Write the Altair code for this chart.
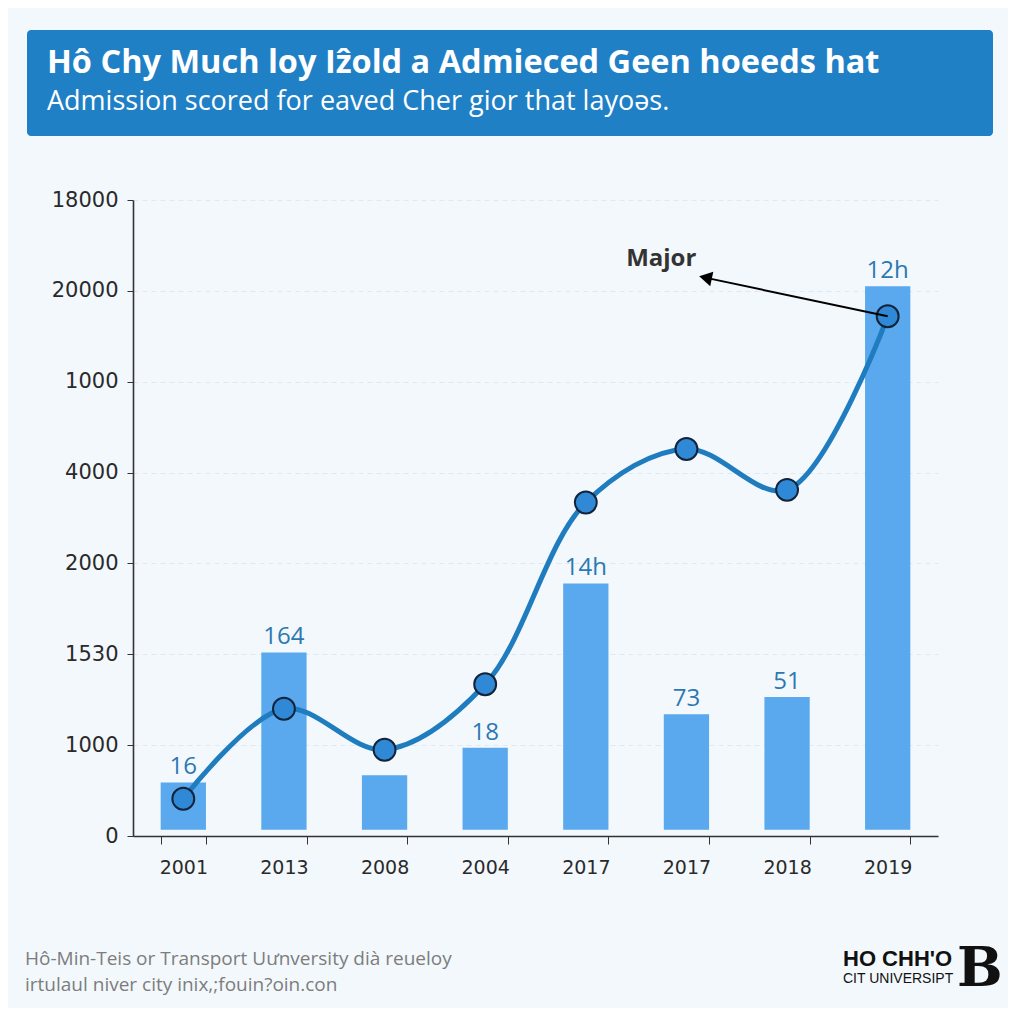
import altair as alt
import pandas as pd

# ---------------- data ----------------
years = ["2001", "2013", "2008", "2004", "2017", "2017", "2018", "2019"]
bar_values = [0.59, 2.02, 0.67, 0.97, 2.78, 1.34, 1.53, 6.05]
bar_labels = ["16", "164", "", "18", "14h", "73", "51", "12h"]
line_values = [0.41, 1.40, 0.95, 1.67, 3.67, 4.26, 3.81, 5.72]
y_tick_labels = ["0", "1000", "1530", "2000", "4000", "1000", "20000", "18000"]

title_text = "Hô Chy Much loy Iẑold a Admieced Geen hoeeds hat"
subtitle_text = "Admission scored for eaved Cher gior that layoəs."
footer_1 = "Hô-Min-Teis or Transport Uưnversity dià reueloy"
footer_2 = "irtulaul niver city inix,;fouin?oin.con"
logo_1 = "HO CHH'O"
logo_2 = "CIT UNIVERSIPT"
logo_3 = "B"

annotation_text = "Major"
arrow_from = [7, 5.72]
arrow_to = [5.21, 6.14]
annotation_pos = [4.75, 6.35]

# ---------------- tables ----------------
df = pd.DataFrame({
    "idx": list(range(len(years))),
    "year": years,
    "bar": bar_values,
    "label": bar_labels,
    "line": line_values,
})
arrow_df = pd.DataFrame({
    "x": [arrow_from[0]], "y": [arrow_from[1]],
    "x2": [arrow_to[0]], "y2": [arrow_to[1]],
})
ann_df = pd.DataFrame({"x": [annotation_pos[0]], "y": [annotation_pos[1]], "t": [annotation_text]})
deco_df = pd.DataFrame({"k": [0]})

year_expr = "[" + ",".join("'%s'" % y for y in years) + "][datum.value]"
ytick_expr = "[" + ",".join("'%s'" % y for y in y_tick_labels) + "][datum.value]"

y_axis = alt.Axis(
    title=None, values=list(range(8)), labelExpr=ytick_expr,
    labelFont="DejaVu Sans", labelFontSize=21, labelColor="#2a2a2a", labelPadding=9,
    domainColor="#333333", domainWidth=1.6, tickColor="#333333", tickSize=6,
    grid=True, gridColor="#e1e9f0", gridDash=[5, 4], gridWidth=1,
)
y_scale = alt.Scale(domain=[0, 7], nice=False, zero=True)

x_enc = alt.X(
    "idx:O",
    scale=alt.Scale(paddingInner=0.55, paddingOuter=0.275),
    axis=alt.Axis(
        title=None, labelExpr=year_expr, labelAngle=0, tickBand="extent",
        labelFont="DejaVu Sans", labelFontSize=19, labelColor="#2a2a2a", labelPadding=14,
        domainColor="#333333", domainWidth=1.6, tickColor="#333333", tickSize=8, grid=False,
    ),
)

base = alt.Chart(df)
bars = base.mark_bar(color="#5aa9ee").encode(
    x=x_enc, y=alt.Y("bar:Q", scale=y_scale, axis=y_axis), y2=alt.datum(0.07)
)
line = base.mark_line(color="#1f7cbf", strokeWidth=5, interpolate="catmull-rom").encode(
    x=x_enc, y=alt.Y("line:Q", scale=y_scale, axis=y_axis)
)
points = base.mark_point(
    filled=True, size=480, fill="#2f89d6", stroke="#13243a", strokeWidth=2, opacity=1
).encode(x=x_enc, y=alt.Y("line:Q", scale=y_scale, axis=y_axis))
labels = base.mark_text(
    baseline="bottom", dy=-3, font="Open Sans", fontSize=24, color="#2b78b3"
).encode(x=x_enc, y=alt.Y("bar:Q", scale=y_scale, axis=y_axis), text="label:N")

band_layer = alt.layer(bars, line, points, labels)

xq = alt.Scale(domain=[-0.5, 7.5], nice=False, zero=False)
rule = alt.Chart(arrow_df).mark_rule(color="black", strokeWidth=2).encode(
    x=alt.X("x:Q", scale=xq, axis=None),
    y=alt.Y("y:Q", scale=y_scale, axis=y_axis),
    x2="x2:Q", y2="y2:Q",
)
head = alt.Chart(arrow_df).mark_point(
    shape="triangle", filled=True, size=220, color="black", opacity=1, angle=282
).encode(
    x=alt.X("x2:Q", scale=xq, axis=None),
    y=alt.Y("y2:Q", scale=y_scale, axis=y_axis),
)
major = alt.Chart(ann_df).mark_text(
    font="Open Sans", fontSize=24, fontWeight="bold", color="#333333"
).encode(
    x=alt.X("x:Q", scale=xq, axis=None),
    y=alt.Y("y:Q", scale=y_scale, axis=y_axis),
    text="t:N",
)
arrow_layer = alt.layer(rule, head, major)

deco = alt.Chart(deco_df)
banner = deco.mark_rect(color="#1f80c6", cornerRadius=4).encode(
    x=alt.value(-106), x2=alt.value(860), y=alt.value(-170), y2=alt.value(-64)
)
t1 = deco.mark_text(
    text=title_text, align="left", baseline="alphabetic",
    font="Open Sans", fontSize=32.5, fontWeight="bold", color="white"
).encode(x=alt.value(-86), y=alt.value(-127))
t2 = deco.mark_text(
    text=subtitle_text, align="left", baseline="alphabetic",
    font="Open Sans", fontSize=27, color="white"
).encode(x=alt.value(-86), y=alt.value(-90))
f1 = deco.mark_text(
    text=footer_1, align="left", baseline="alphabetic",
    font="Open Sans", fontSize=19, color="#7d7d7d"
).encode(x=alt.value(-108), y=alt.value(765))
f2 = deco.mark_text(
    text=footer_2, align="left", baseline="alphabetic",
    font="Open Sans", fontSize=19, color="#7d7d7d"
).encode(x=alt.value(-108), y=alt.value(791))
l1 = deco.mark_text(
    text=logo_1, align="left", baseline="alphabetic",
    font="Liberation Sans", fontSize=22, fontWeight="bold", color="#111111"
).encode(x=alt.value(710), y=alt.value(766))
l2 = deco.mark_text(
    text=logo_2, align="left", baseline="alphabetic",
    font="Liberation Sans", fontSize=14, color="#111111"
).encode(x=alt.value(710), y=alt.value(783))
l3 = deco.mark_text(
    text=logo_3, align="left", baseline="alphabetic",
    font="DejaVu Serif", fontSize=54, fontWeight="bold", color="#111111"
).encode(x=alt.value(824), y=alt.value(786))

chart = alt.layer(
    banner, t1, t2, band_layer, arrow_layer, f1, f2, l1, l2, l3
).resolve_scale(x="independent").properties(
    width=805, height=636, background="#f3f8fc",
    padding={"left": 125, "top": 192, "right": 70, "bottom": 172},
    autosize=alt.AutoSizeParams(type="none"),
).configure_view(stroke=None)

chart.save("out.html", embed_options={"renderer": "svg", "actions": False})
